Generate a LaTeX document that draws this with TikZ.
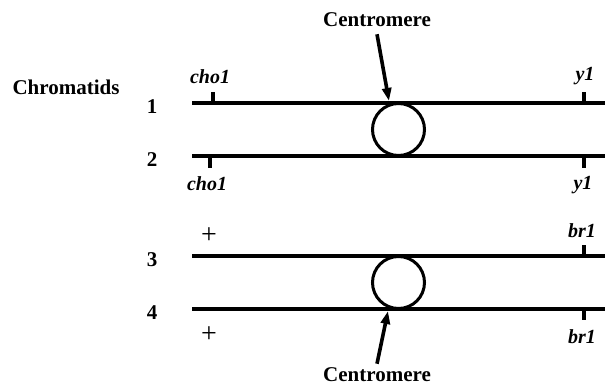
\documentclass[tikz,border=0pt]{standalone}
\usepackage{fontspec}
\setmainfont{Liberation Serif}
\usetikzlibrary{arrows.meta,positioning}
\tikzset{
  chrom/.style={line width=3.2pt},
  cen/.style={circle,draw,line width=3pt,minimum size=52pt,inner sep=0pt},
  tickmark/.style={line width=3.2pt},
  lbl/.style={font=\fontsize{21}{24}\selectfont\bfseries,inner sep=0pt},
  gene/.style={font=\fontsize{20}{23}\selectfont\bfseries\itshape,inner sep=0pt},
  wild/.style={font=\fontsize{28}{30}\selectfont,inner sep=0pt},
  ar/.style={-{Triangle[length=13pt,width=9pt]},line width=3.6pt},
}
\begin{document}
\begin{tikzpicture}[x=1pt,y=-1pt]
  \useasboundingbox (0,0) rectangle (611,385);
  % chromatids 1-4
  \foreach \i/\y in {1/103,2/156,3/256,4/309}{
    \coordinate (l\i) at (192,\y);
    \coordinate (r\i) at (605,\y);
    \draw[chrom] (l\i) -- (r\i);
    \node[lbl] (num\i) at (152,\y+4) {\i};
  }
  \node[lbl] (chr) at (66,87) {Chromatids};
  % centromeres
  \node[cen] (cenA) at (398.5,129.5) {};
  \node[cen] (cenB) at (398.5,282.5) {};
  % gene markers
  \draw[tickmark] (213,103) -- (213,92);
  \draw[tickmark] (584,103) -- (584,92);
  \draw[tickmark] (210,156) -- (210,168);
  \draw[tickmark] (584,156) -- (584,168);
  \draw[tickmark] (584,256) -- (584,245);
  \draw[tickmark] (584,309) -- (584,320);
  \node[gene] (cho1a) at (210,77) {cho1};
  \node[gene] (y1a) at (585,76) {y1};
  \node[gene] (cho1b) at (207,184) {cho1};
  \node[gene] (y1b) at (583,185) {y1};
  \node[wild] (wa) at (209,236) {+};
  \node[gene] (br1a) at (582,231) {br1};
  \node[wild] (wb) at (209,335) {+};
  \node[gene] (br1b) at (582,337) {br1};
  % labels and arrows
  \node[lbl] (cenTop) at (377,20) {Centromere};
  \node[lbl] (cenBot) at (377,375) {Centromere};
  \coordinate (tipA) at (389,101);
  \coordinate (tipB) at (388,311);
  \draw[ar] ([yshift=-7pt]cenTop.south) -- (tipA);
  \draw[ar] ([yshift=4pt]cenBot.north) -- (tipB);
\end{tikzpicture}
\end{document}
